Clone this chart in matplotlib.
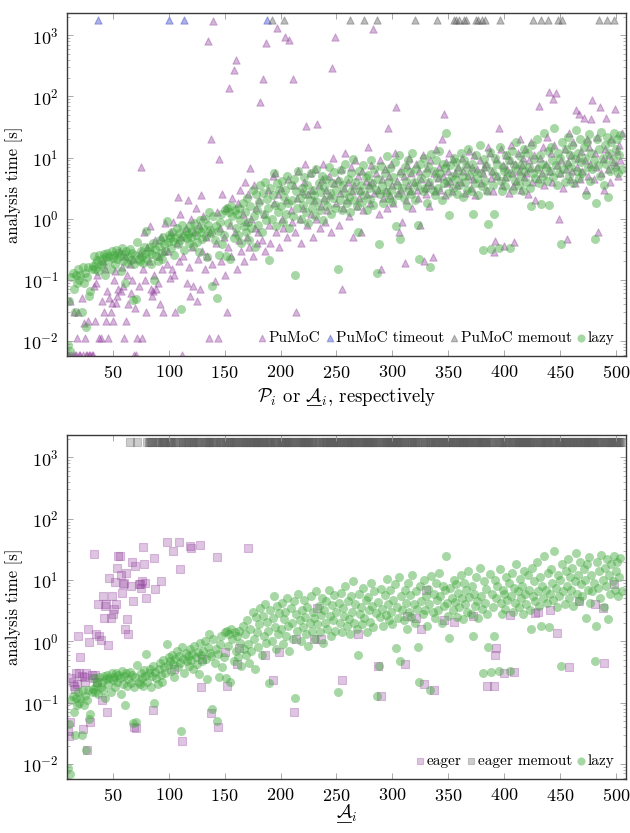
import numpy as np
import matplotlib
matplotlib.use('Agg')
import matplotlib.pyplot as plt
from matplotlib.lines import Line2D
from matplotlib.ticker import LogLocator, NullFormatter, MultipleLocator

plt.rcParams['font.family'] = 'serif'
plt.rcParams['font.serif'] = ['cmr10', 'DejaVu Serif']
plt.rcParams['mathtext.fontset'] = 'cm'
plt.rcParams['axes.formatter.use_mathtext'] = True

# analysis time [s] per instance, instances 10..505; None = timeout/memout
F = 0.006
lazy_t = [
    0.0085, 0.045, 0.0068, 0.11, 0.13, 0.07, 0.03, 0.12, 0.09, 0.15,
    0.10, 0.12, 0.03, 0.16, 0.09, 0.13, 0.017, 0.11, 0.16, 0.055,
    0.065, 0.15, 0.17, 0.25, 0.15, 0.19, 0.21, 0.14, 0.26, 0.18,
    0.22, 0.16, 0.27, 0.12, 0.24, 0.28, 0.20, 0.25, 0.15, 0.30,
    0.23, 0.26, 0.18, 0.31, 0.22, 0.28, 0.25, 0.14, 0.33, 0.20,
    0.27, 0.09, 0.30, 0.19, 0.24, 0.32, 0.21, 0.28, 0.047, 0.18,
    0.26, 0.048, 0.41, 0.22, 0.20, 0.30, 0.25, 0.19, 0.34, 0.27,
    0.62, 0.22, 0.30, 0.35, 0.18, 0.27, 0.40, 0.10, 0.32, 0.25,
    0.20, 0.36, 0.45, 0.28, 0.22, 0.50, 0.38, 0.30, 0.92, 0.41,
    0.55, 0.48, 0.33, 0.60, 0.43, 0.26, 0.51, 0.70, 0.38, 0.58,
    0.45, 0.034, 0.80, 0.52, 0.31, 0.64, 0.48, 0.57, 0.40, 0.75,
    0.50, 0.62, 0.36, 0.85, 0.55, 0.42, 0.68, 0.29, 0.95, 0.60,
    0.47, 0.70, 1.00, 0.52, 0.24, 0.80, 1.30, 0.65, 0.58, 0.080,
    1.10, 0.45, 0.75, 0.05, 0.62, 0.26, 0.90, 1.20, 0.38, 0.55,
    1.40, 0.25, 1.50, 0.85, 1.30, 0.22, 1.60, 1.10, 0.48, 1.40,
    0.70, 1.20, 0.55, 1.50, 0.95, 0.40, 1.80, 0.75, 1.30, 0.60,
    2.20, 0.90, 0.45, 1.60, 0.70, 3.00, 1.10, 0.35, 2.50, 1.40,
    0.80, 1.90, 3.50, 0.60, 2.60, 1.20, 4.00, 0.95, 2.10, 1.50,
    0.21, 3.20, 1.00, 2.40, 5.50, 1.70, 0.75, 3.80, 1.30, 2.90,
    1.60, 4.20, 0.90, 2.30, 3.00, 1.20, 5.00, 1.80, 0.70, 3.50,
    2.00, 1.10, 4.50, 0.12, 2.80, 1.50, 6.00, 2.20, 1.00, 3.20,
    1.70, 4.80, 2.50, 1.30, 3.60, 0.85, 2.00, 5.50, 1.50, 3.00,
    2.40, 1.10, 6.50, 1.90, 3.80, 1.40, 2.70, 5.00, 0.95, 3.30,
    2.00, 4.50, 1.60, 7.00, 2.60, 1.20, 3.90, 2.20, 5.80, 1.50,
    3.00, 0.15, 4.20, 2.00, 6.20, 1.40, 3.50, 2.60, 8.00, 1.80,
    4.50, 2.30, 1.30, 5.50, 3.00, 9.50, 2.00, 4.00, 1.60, 0.60,
    6.00, 2.80, 3.60, 1.90, 7.50, 2.40, 4.80, 1.40, 5.20, 3.20,
    2.10, 9.00, 3.80, 1.70, 6.50, 2.90, 0.13, 4.40, 0.39, 2.50,
    7.20, 3.40, 1.80, 5.60, 2.70, 10.5, 4.00, 2.20, 6.80, 3.00,
    1.90, 4.80, 8.50, 0.77, 3.60, 2.40, 11.0, 0.47, 5.50, 3.20,
    2.20, 7.00, 4.20, 1.60, 9.00, 3.00, 5.80, 2.50, 12.0, 4.00,
    2.00, 6.50, 3.40, 0.80, 0.22, 8.00, 4.60, 2.80, 10.0, 3.20,
    5.50, 1.80, 7.20, 4.00, 0.16, 11.5, 3.00, 6.00, 2.40, 9.00,
    4.80, 3.20, 13.0, 5.50, 2.00, 8.00, 3.80, 6.80, 25.0, 4.20,
    2.60, 1.15, 7.50, 5.00, 3.20, 10.0, 4.40, 8.50, 2.50, 6.20,
    3.60, 12.0, 5.00, 2.30, 9.00, 4.00, 7.00, 3.00, 14.0, 5.20,
    2.80, 8.00, 1.20, 6.00, 3.80, 11.0, 4.60, 2.40, 16.0, 5.50,
    3.40, 0.31, 9.50, 4.20, 7.20, 2.80, 0.82, 12.5, 0.32, 6.00,
    3.60, 1.20, 10.0, 5.00, 8.00, 0.33, 15.0, 4.20, 2.80, 7.00,
    6.00, 3.40, 11.0, 4.80, 9.00, 0.33, 5.50, 13.0, 3.00, 7.50,
    4.20, 18.0, 6.50, 3.60, 10.5, 5.00, 8.00, 2.80, 14.0, 6.00,
    4.00, 12.0, 7.00, 3.20, 1.60, 16.0, 5.50, 9.50, 4.60, 20.0,
    6.50, 3.80, 11.0, 1.77, 8.00, 5.00, 25.0, 7.00, 4.20, 13.0,
    1.70, 6.00, 15.0, 9.00, 4.80, 30.0, 7.50, 3.60, 12.0, 5.50,
    10.0, 0.39, 18.0, 6.50, 4.00, 14.0, 8.00, 22.0, 5.00, 11.0,
    7.00, 16.0, 3.80, 9.50, 28.0, 6.00, 12.0, 4.60, 20.0, 8.50,
    5.50, 15.0, 10.0, 2.40, 18.0, 7.00, 24.0, 4.20, 12.0, 6.50,
    9.00, 0.47, 1.80, 20.0, 7.50, 14.0, 5.00, 26.0, 10.0, 3.60,
    16.0, 8.00, 22.0, 2.30, 12.0, 6.00, 18.0, 9.50, 25.0, 7.00,
    14.0, 20.0, 5.50, 11.0, 23.0, 6.50,
]

pumoc_t = [
    F, F, 0.045, F, F, 0.03, F, F, 0.011, 0.03,
    F, F, 0.05, F, 0.02, 0.011, F, F, 0.021, F,
    F, F, F, 0.08, 0.021, 0.09, 0.12, None, 0.011, 0.011,
    0.045, 0.2, 0.03, 0.15, 0.021, 0.065, 0.011, 0.05, 0.03, 0.042,
    0.021, 0.1, 0.14, 0.042, 0.055, 0.072, 0.3, 0.065, 0.16, 0.08,
    0.011, 0.25, 0.021, 0.12, 0.04, 0.18, 0.06, 0.1, 0.22, F,
    0.035, F, 0.011, 0.08, 0.28, 6.9, 0.011, 0.15, 0.6, 0.1,
    0.03, 0.35, 0.2, 0.75, 0.07, 0.055, 0.065, 0.12, 0.45, 0.07,
    0.09, 0.25, 0.04, 0.5, 0.15, 0.03, 0.3, 0.85, 0.18, 0.3,
    None, 0.106, 0.6, 0.15, 0.9, 0.12, 0.03, 0.4, 2.3, 0.2,
    1.2, 0.5, F, 0.25, None, 0.7, 0.09, 2.0, 0.16, 0.055,
    1.0, 0.35, 0.08, 0.6, 1.5, 0.045, 0.22, 0.8, 0.07, 2.4,
    0.3, 1.1, 0.15, 0.5, 0.25, 800, 0.011, 0.6, 20, 0.18,
    1700, 0.095, 0.4, 1.3, 0.011, 9.4, 0.7, 0.2, 2.5, 0.5,
    0.12, 1.5, 0.03, 0.35, 138, 0.8, 0.25, 2.2, 270, 0.6,
    390, 0.15, 1.8, 0.45, 3.0, 0.3, 1.2, 0.2, 4.0, 0.9,
    0.5, 2.5, 0.35, 6.7, 1.0, 0.25, 3.5, 0.7, 1.5, 0.4,
    0.6, 2.0, 82, 0.45, 195, 1.2, 0.3, 750, None, 3.0,
    0.8, 0.4, None, 5.0, 1.8, 5.7, 0.6, 1300, 2.5, 0.35,
    3.2, 1.0, 0.7, None, 940, 2.0, 0.5, 4.5, 830, 1.4,
    0.9, 190, 3.5, 0.6, 0.03, 2.2, 6.0, 1.0, 0.4, 2.8,
    1.5, 4.0, 7.8, 33, 0.8, 2.5, 5.5, 1.2, 3.0, 0.5,
    2.0, 6.5, 1.0, 35, 3.5, 0.7, 1.6, 4.5, 8.0, 2.2,
    0.9, 3.0, 1.4, 5.0, 2.4, 0.6, 290, 10.0, 3.8, 940,
    1.8, 4.5, 0.8, 2.6, 6.5, 0.072, 1.5, 3.2, 12.0, 2.0,
    4.0, 1.1, None, 7.0, 2.8, 0.5, 3.5, 9.0, 1.6, 5.0,
    2.2, 3.0, 0.6, 6.0, 1.4, None, 4.2, 2.5, 15, 3.5,
    1.8, 7.5, 4.0, 1260, 2.6, 5.5, None, 3.0, 1.2, 9.0,
    0.15, 4.5, 2.2, 6.5, 3.0, 1.5, 31, 5.0, 2.4, 8.0,
    3.5, 1.8, 12.0, 68, 4.2, 2.6, 0.6, 6.0, 3.0, 0.9,
    5.0, 0.19, 2.0, 7.5, 3.6, 10.0, 2.8, 5.5, 1.5, 4.0,
    None, 8.0, 3.0, 2.2, 6.0, 0.8, 4.5, 11.0, 0.2, 3.2,
    2.5, 6.8, 4.0, 1.6, 9.0, 3.6, 0.24, 5.5, 2.8, 14.0,
    None, 4.6, 7.0, 3.0, 20.0, 5.0, 52, 2.4, 8.5, 3.8,
    6.0, 12.0, 4.2, 2.8, 9.5, None, 5.5, None, 3.5, 7.0,
    None, 4.0, 10.0, 6.0, None, 2.6, None, 8.0, 5.0, 13.0,
    3.2, 7.0, 4.4, 11.0, 2.4, None, 6.5, None, 9.0, 3.8,
    None, 5.5, 7.0, None, 8.0, 3.0, 15.0, 12.0, 4.6, 6.0,
    2.8, 0.29, 0.43, 9.5, 5.0, 31, None, 14.0, 3.6, 7.5,
    0.36, 4.8, 11.0, 6.5, 2.6, 9.0, 16.0, 5.5, 3.4, 0.42,
    8.0, 4.2, 12.0, 6.0, 20.0, 3.0, 7.5, 10.0, 4.8, 14.0,
    5.5, 2.5, 9.0, 6.8, 18.0, 4.0, None, 11.0, 2.0, 7.0,
    4.5, 71, 10.0, None, 5.5, 15.0, 3.5, 8.0, 22.0, None,
    120, 6.0, 12.0, 4.0, 92, 16.0, 112, 7.5, None, 1.0,
    5.5, 9.0, None, 3.2, 14.0, 6.5, 0.47, 8.5, 25.0, 4.5,
    11.0, 6.0, 18.0, 3.8, 59, 7.0, 10.0, 52, 4.4, 13.0,
    6.0, 45, 9.0, 3.0, 20.0, 5.0, 15.0, 8.0, 42, 89,
    4.5, 12.0, 7.0, 22.0, 0.6, None, 68, 5.5, 9.5, 3.0,
    14.0, 45, None, 6.5, 11.0, 4.0, 20.0, 8.5, None, 63,
    7.5, 13.0, 5.0, 16.0, 9.0, 25.0,
]
pumoc_timeout_x = [37, 100, 114, 188]

eager_x = list(range(10, 65)) + [
    66, 67, 68, 69, 70, 71, 73, 74, 75, 76, 77, 78, 79, 80, 86, 87, 88, 93,
    98, 104, 105, 109, 110, 112, 119, 120, 128, 129, 130, 138, 143, 144,
    150, 152, 161, 163, 171, 186, 193, 199, 212, 214, 230, 233, 236, 255,
    269, 287, 290, 311, 313, 321, 326, 328, 330, 337, 346, 355, 372, 385,
    391, 392, 393, 400, 405, 409, 428, 430, 441, 447, 458, 467, 481, 488,
    489, 498]
eager_t = [
    0.034, 0.029, 0.048, 0.25, 0.22, 0.19, 0.17, 0.30, 0.20, 1.2,
    0.30, 0.55, 0.27, 0.037, 0.26, 0.22, 0.30, 0.017, 1.6, 0.96,
    0.048, 0.28, 0.25, 27, 0.28, 1.3, 0.22, 4.1, 1.2, 1.04,
    0.11, 5.5, 2.4, 3.8, 4.0, 0.07, 0.86, 10.6, 2.4, 5.5,
    2.8, 3.4, 9.4, 4.1, 16, 25, 25, 12, 6.2, 8.5,
    9.1, 1.6, 12.8, 2.3, 1.3,
    8.1, 20, 4.6, 0.04, 17, 0.038, 8.7, 8.7, 7.5, 9.5, 34, 18, 9.0, 5.0,
    0.075, 23, 7.2, 9.8, 42, 30, 0.35, 42, 15, 0.024, 36, 33, 37, 0.18,
    0.52, 0.067, 24, 0.04, 0.68, 0.19, 0.43, 0.77, 33, 0.6, 0.23, 0.68,
    0.07, 1.08, 1.1, 3.5, 1.1, 0.23, 1.3, 0.4, 0.13, 0.43, 2.6, 2.4, 1.6,
    0.2, 7.0, 0.16, 2.2, 2.1, 2.6, 0.19, 0.19, 0.6, 0.77, 0.31, 2.7, 0.32,
    2.9, 3.0, 3.2, 1.35, 0.38, 4.6, 4.1, 3.5, 0.45, 8.7]

LIMIT_T = 1800  # where timeouts / memouts are drawn

instances = np.arange(10, 10 + len(lazy_t))
lazy = np.array(lazy_t, dtype=float)
pumoc = np.array(pumoc_t, dtype=float)
failed = instances[np.isnan(pumoc)]
timeout_x = np.array([x for x in failed if x in pumoc_timeout_x])
memout_x = np.array([x for x in failed if x not in pumoc_timeout_x])
eager_memout_x = np.array([x for x in instances if x not in eager_x])

PURPLE = '#93419e'
GREEN = '#3ea83a'
BLUE = '#3440c4'
GRAY = '#5a5a5a'
W, H = 630, 833

fig = plt.figure(figsize=(W / 100, H / 100), dpi=100)
ax1 = fig.add_axes([67 / W, 1 - 356 / H, 559 / W, 343 / H])
ax2 = fig.add_axes([67 / W, 1 - 779 / H, 559 / W, 344 / H])

tri = dict(marker='^', s=27, linewidths=0.8)
ax1.scatter(instances, pumoc, color=PURPLE, alpha=0.38, label='PuMoC', **tri)
ax1.scatter(timeout_x, np.full(len(timeout_x), LIMIT_T), color=BLUE, alpha=0.4,
            label='PuMoC timeout', **tri)
ax1.scatter(memout_x, np.full(len(memout_x), LIMIT_T), color=GRAY, alpha=0.4,
            label='PuMoC memout', **tri)
ax1.scatter(instances, lazy, color=GREEN, alpha=0.45, s=42, linewidths=0, label='lazy')

sq = dict(marker='s', s=30, linewidths=0.8)
ax2.scatter(eager_x, eager_t, color=PURPLE, alpha=0.3, label='eager', **sq)
ax2.scatter(eager_memout_x, np.full(len(eager_memout_x), LIMIT_T), color=GRAY,
            alpha=0.3, label='eager memout', **sq)
ax2.scatter(instances, lazy, color=GREEN, alpha=0.45, s=42, linewidths=0, label='lazy')

for ax in (ax1, ax2):
    ax.set_yscale('log')
    ax.set_xlim(9, 509)
    ax.set_ylim(10 ** -2.245, 10 ** 3.365)
    ax.xaxis.set_major_locator(MultipleLocator(50))
    ax.yaxis.set_major_locator(LogLocator(base=10, numticks=12))
    ax.yaxis.set_minor_locator(LogLocator(base=10, subs=np.arange(2, 10), numticks=12))
    ax.yaxis.set_minor_formatter(NullFormatter())
    ax.tick_params(which='both', direction='in', top=True, right=True,
                   color='#9a9a9a', labelsize=13)
    ax.tick_params(which='major', length=4.5, width=0.6, pad=6)
    ax.tick_params(which='minor', length=2.5, width=0.5)
    for s in ax.spines.values():
        s.set_color('#3a3a3a')
        s.set_linewidth(1.0)
    ax.set_ylabel('analysis time [s]', fontsize=12)
    ax.yaxis.set_label_coords(-0.078, 0.5)
    ax.legend(loc='lower right', ncol=4, frameon=False, fontsize=11,
              handletextpad=0.15, columnspacing=0.3, handlelength=0.6,
              borderaxespad=0.35, scatterpoints=1, markerscale=0.9)

# x labels: mathtext has no \underline, so the A is underlined by hand
fig.canvas.draw()
renderer = fig.canvas.get_renderer()


def text_width(s, size):
    t = fig.text(0, 0, s, fontsize=size)
    w = t.get_window_extent(renderer).width
    t.remove()
    return w


def underlined_xlabel(pre, post, baseline_px, size=13.5):
    xc = 0.5 * (67 + 626)
    full = pre + r'$\mathcal{A}' + post
    t = fig.text(xc / W, 1 - baseline_px / H, full, fontsize=size,
                 ha='center', va='baseline')
    left = t.get_window_extent(renderer).x0
    a_right = left + text_width(pre + r'$\mathcal{A}$', size)
    a_left = a_right - text_width(r'$\mathcal{A}$', size)
    y = (H - baseline_px - 2.5) / H
    fig.add_artist(Line2D([(a_left + 1) / W, (a_right - 2) / W], [y, y],
                          color='black', linewidth=0.6))


underlined_xlabel(r'$\mathcal{P}_i$ or ', r'_i$, respectively', 402)
underlined_xlabel('', r'_i$', 819)

fig.savefig('out.png', dpi=100)
